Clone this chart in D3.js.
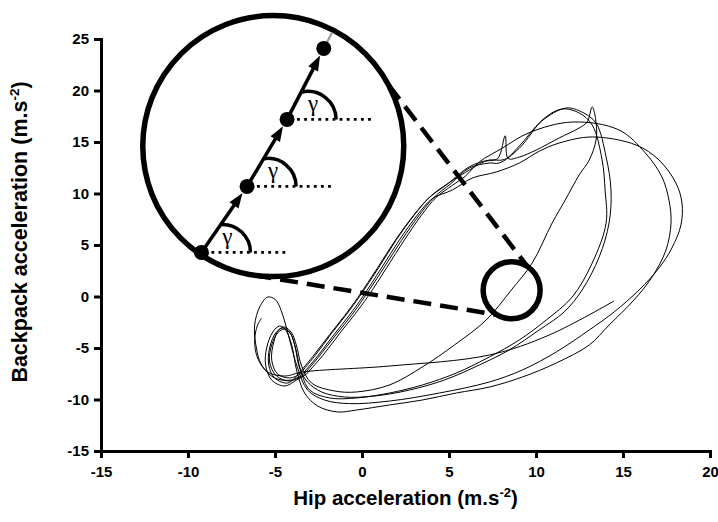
<!DOCTYPE html>
<html>
<head>
<meta charset="utf-8">
<script src="https://cdn.jsdelivr.net/npm/d3@7"></script>
<style>
  body { margin: 0; background: #fff; }
  svg { display: block; }
  .axis text { font-family: "Liberation Sans", Arial, sans-serif; font-weight: bold; font-size: 15px; fill: #000; }
  .title { font-family: "Liberation Sans", Arial, sans-serif; font-weight: bold; font-size: 20.5px; fill: #000; }
</style>
</head>
<body>
<svg id="chart" width="718" height="522"></svg>
<script>
// Axis ticks
const xTicks = [-15, -10, -5, 0, 5, 10, 15, 20];
const yTicks = [-15, -10, -5, 0, 5, 10, 15, 20, 25];

// Hip vs backpack acceleration, one array per stride cycle: [hip, backpack] in m.s-2
const cycle1 = [[-3.47,-7.62],[-2.55,-5.78],[-1.58,-3.64],[-0.72,-1.80],[0.03,-0.05],[1.12,2.77],[2.15,5.49],[3.18,7.91],[4.04,9.5],[5.19,10.34],[6.34,11.5],[7.72,12.09],[9.04,12.96],[10.18,14.1],[11.33,14.9],[13.23,15.49],[15.75,14.71],[17.07,13.25],[18.04,11.02],[18.39,9.08],[18.33,6.94],[17.81,4.71],[17.07,2.77],[15.92,0.63],[14.49,-1.5],[13.06,-3.25],[11.16,-5.39],[9.21,-7.14],[7.32,-8.3],[4.45,-9.37],[1.58,-10.15],[-0.72,-10.4],[-2.15,-10.05],[-3.13,-9.08],[-3.70,-6.94],[-4.16,-4.22],[-4.50,-2.09],[-4.96,-0.34],[-5.42,-0.05],[-5.88,-1.02],[-6.17,-2.77],[-6.10,-4.71],[-5.77,-6.65],[-5.02,-7.91],[-4.04,-8.11],[-3.47,-7.62]];
const cycle2 = [[-3.20,-7.55],[-2.25,-5.72],[-1.28,-3.58],[-0.42,-1.74],[0.34,0.0],[1.42,2.80],[2.44,5.5],[3.42,7.9],[4.25,9.6],[5.2,10.8],[5.95,11.7],[6.74,13.06],[8.06,14.4],[9.6,15.9],[12.08,16.94],[14.77,16.17],[16.3,13.9],[17.24,11.6],[17.64,9.37],[17.76,7.14],[17.47,4.51],[16.67,1.89],[15.63,-0.34],[14.20,-2.77],[13.06,-4.71],[11.16,-6.46],[9.21,-7.82],[7.32,-8.79],[5.42,-9.37],[3.47,-10.05],[1.58,-10.53],[-0.32,-11.02],[-1.41,-11.21],[-2.55,-10.63],[-3.30,-9.37],[-3.76,-7.14],[-4.04,-4.71],[-4.39,-3.25],[-4.73,-2.86],[-5.13,-3.45],[-5.48,-5.0],[-5.54,-6.65],[-5.19,-8.11],[-4.45,-8.69],[-3.76,-8.11],[-3.20,-7.55]];
const cycle3 = [[-3.75,-7.7],[-2.84,-5.85],[-1.86,-3.7],[-1.0,-1.86],[-0.24,-0.1],[0.86,2.7],[1.9,5.42],[2.95,7.85],[3.86,9.6],[4.9,10.9],[6.17,12.6],[7.32,13.25],[8.18,13.3],[9.04,14.6],[10.3,17.0],[11.73,18.3],[12.65,17.9],[13.45,16.84],[14.03,13.54],[14.31,10.34],[14.20,7.14],[13.63,3.83],[12.65,0.63],[11.62,-1.5],[10.18,-3.25],[8.46,-5.19],[6.74,-6.65],[4.73,-8.11],[2.73,-9.08],[0.72,-9.66],[-1.0,-9.76],[-2.32,-9.27],[-3.13,-8.3],[-3.59,-6.94],[-3.87,-4.71],[-4.16,-3.45],[-4.56,-3.06],[-4.96,-3.54],[-5.31,-5.0],[-5.36,-6.65],[-5.02,-7.91],[-4.27,-8.4],[-3.75,-7.7]];
const cycle4 = [[-3.38,-7.66],[-2.46,-5.8],[-1.47,-3.66],[-0.6,-1.82],[0.14,-0.06],[1.24,2.74],[2.27,5.45],[3.28,7.88],[4.12,9.6],[5.1,10.95],[6.17,12.48],[7.32,12.96],[7.89,12.96],[9.04,14.4],[10.47,17.3],[11.5,18.2],[12.48,17.82],[13.23,16.65],[13.8,13.25],[13.97,10.34],[14.03,7.14],[13.23,3.25],[12.08,-0.05],[10.59,-2.28],[9.04,-4.22],[7.32,-5.87],[5.42,-7.43],[3.47,-8.59],[1.58,-9.37],[-0.32,-9.85],[-1.86,-9.85],[-3.01,-9.08],[-3.53,-7.14],[-3.82,-5.0],[-4.1,-3.64],[-4.45,-3.16],[-4.85,-3.54],[-5.19,-4.71],[-5.31,-6.36],[-4.91,-7.72],[-4.16,-8.2],[-3.38,-7.66]];
const cycle5 = [[-3.6,-7.58],[-2.7,-5.74],[-1.76,-3.6],[-0.9,-1.76],[-0.14,0.0],[0.96,2.8],[1.98,5.52],[3.02,7.95],[3.92,9.7],[4.96,11.0],[6.17,12.28],[7.03,13.1],[7.8,13.4],[8.23,15.6],[8.4,13.4],[9.04,13.54],[10.01,14.22],[11.33,15.39],[12.48,16.36],[12.94,16.94],[13.23,18.4],[13.45,16.94],[13.45,15.19],[13.06,13.25],[12.48,11.8],[11.68,9.37],[10.93,7.14],[9.78,3.25],[8.58,0.63],[7.14,-2.28],[5.31,-4.71],[3.47,-6.84],[1.58,-8.59],[-0.32,-9.27],[-1.58,-9.17],[-2.9,-8.4],[-3.47,-6.75],[-3.76,-4.81],[-4.04,-3.54],[-4.45,-2.96],[-4.79,-3.25],[-5.07,-4.42],[-5.19,-6.17],[-4.85,-7.52],[-4.16,-7.91],[-3.6,-7.58]];
const cycle6 = [[-5.77,-2.09],[-6.0,-2.77],[-6.17,-4.22],[-6.0,-5.97],[-5.42,-7.33],[-4.45,-7.72],[-3.41,-7.33],[1.58,-6.75],[7.32,-5.68],[10.76,-3.74],[14.49,-0.43]];

const cycles = [cycle1, cycle2, cycle3, cycle4, cycle5, cycle6];

// Magnified region of the trace and where the magnifier sits (data units)
const focus = { hip: 8.6, backpack: 0.6 };
const lens = { hip: -5.1, backpack: 14.6 };

const svg = d3.select("#chart");

const x = d3.scaleLinear().domain([-15, 20]).range([101, 710]);
const y = d3.scaleLinear().domain([-15, 25]).range([451, 39]);

// ---- trace ----
const line = d3.line()
  .x(d => x(d[0]))
  .y(d => y(d[1]))
  .curve(d3.curveCatmullRom.alpha(0.5));

svg.append("g")
  .selectAll("path")
  .data(cycles)
  .join("path")
  .attr("d", line)
  .attr("fill", "none")
  .attr("stroke", "#000")
  .attr("stroke-width", 1);

// ---- axes ----
const fmt = d => String(d);
const gx = svg.append("g").attr("class", "axis")
  .attr("transform", `translate(0,${y(-15)})`)
  .call(d3.axisBottom(x).tickValues(xTicks).tickSize(7).tickSizeOuter(0).tickPadding(8).tickFormat(fmt));
const gy = svg.append("g").attr("class", "axis")
  .attr("transform", `translate(${x(-15)},0)`)
  .call(d3.axisLeft(y).tickValues(yTicks).tickSize(7).tickSizeOuter(0).tickPadding(5).tickFormat(fmt));
[gx, gy].forEach(g => {
  g.select(".domain").attr("stroke", "#000").attr("stroke-width", 3).attr("stroke-linecap", "square");
  g.selectAll(".tick line").attr("stroke", "#000").attr("stroke-width", 3);
});

// axis titles with superscript exponent
const xt = svg.append("text").attr("class", "title")
  .attr("x", (x(-15) + x(20)) / 2).attr("y", 505).attr("text-anchor", "middle");
xt.append("tspan").text("Hip acceleration (m.s");
xt.append("tspan").attr("dy", -8).attr("font-size", "13px").text("-2");
xt.append("tspan").attr("dy", 8).text(")");

const yt = svg.append("text").attr("class", "title")
  .attr("transform", `translate(27,232) rotate(-90)`)
  .attr("text-anchor", "middle")
  .style("font-size", "21.5px");
yt.append("tspan").text("Backpack acceleration (m.s");
yt.append("tspan").attr("dy", -8).attr("font-size", "13.5px").text("-2");
yt.append("tspan").attr("dy", 8).text(")");

// ---- magnifier ----
const big = { x: x(lens.hip), y: y(lens.backpack), r: 130.5 };
const small = { x: x(focus.hip), y: y(focus.backpack), r: 28.5 };
const onCircle = (c, deg) => [c.x + c.r * Math.cos(deg * Math.PI / 180), c.y + c.r * Math.sin(deg * Math.PI / 180)];

const connectors = [
  [onCircle(big, -28), onCircle(small, -56)],
  [onCircle(big, 98.7), onCircle(small, 121)]
];
svg.append("g").selectAll("line").data(connectors).join("line")
  .attr("x1", d => d[0][0]).attr("y1", d => d[0][1])
  .attr("x2", d => d[1][0]).attr("y2", d => d[1][1])
  .attr("stroke", "#000").attr("stroke-width", 4.5).attr("stroke-dasharray", "18 9");

svg.append("circle").attr("cx", small.x).attr("cy", small.y).attr("r", small.r)
  .attr("fill", "none").attr("stroke", "#000").attr("stroke-width", 5.5);

svg.append("circle").attr("cx", big.x).attr("cy", big.y).attr("r", big.r)
  .attr("fill", "#fff").attr("stroke", "#000").attr("stroke-width", 5.5);

// schematic of successive samples inside the lens (offsets from lens centre, px)
const steps = [[-71.8, 106.3], [-26.2, 40.3], [13.8, -26.7], [50.5, -97.7]]
  .map(([dx, dy]) => [big.x + dx, big.y + dy]);
const dotR = 7.5;
const inset = svg.append("g");

// grey continuation to the lens rim
{
  const p = steps[3], q = steps[2];
  const len = Math.hypot(p[0] - q[0], p[1] - q[1]);
  const u = [(p[0] - q[0]) / len, (p[1] - q[1]) / len];
  const d = [p[0] - big.x, p[1] - big.y];
  const du = d[0] * u[0] + d[1] * u[1];
  const rr = big.r - 2.5;
  const t = -du + Math.sqrt(du * du - (d[0] * d[0] + d[1] * d[1]) + rr * rr);
  inset.append("line").attr("x1", p[0]).attr("y1", p[1])
    .attr("x2", p[0] + u[0] * t).attr("y2", p[1] + u[1] * t)
    .attr("stroke", "#9a9a9a").attr("stroke-width", 2.2);
}

// arrows between samples, angle arcs, horizontal references and labels
const headLen = 15, headW = 11, arcOff = 21, arcR = 28;
for (let i = 0; i < steps.length - 1; i++) {
  const a = steps[i], b = steps[i + 1];
  const len = Math.hypot(b[0] - a[0], b[1] - a[1]);
  const u = [(b[0] - a[0]) / len, (b[1] - a[1]) / len];
  const n = [-u[1], u[0]];
  const tip = [b[0] - u[0] * (dotR + 0.5), b[1] - u[1] * (dotR + 0.5)];
  const base = [tip[0] - u[0] * headLen, tip[1] - u[1] * headLen];
  inset.append("line").attr("x1", a[0]).attr("y1", a[1])
    .attr("x2", base[0] + u[0] * 2).attr("y2", base[1] + u[1] * 2)
    .attr("stroke", "#000").attr("stroke-width", 3.5);
  inset.append("path")
    .attr("d", `M${tip[0]},${tip[1]}L${base[0] + n[0] * headW / 2},${base[1] + n[1] * headW / 2}L${base[0] - n[0] * headW / 2},${base[1] - n[1] * headW / 2}Z`)
    .attr("fill", "#000");

  // dotted horizontal reference
  inset.append("line").attr("x1", a[0] + 10).attr("y1", a[1]).attr("x2", a[0] + 86).attr("y2", a[1])
    .attr("stroke", "#000").attr("stroke-width", 2.8).attr("stroke-dasharray", "2.8 4.3");

  // angle arc from horizontal up to the arrow
  const c = [a[0] + arcOff, a[1]];
  const ux = u[0] * arcOff;
  const t = ux + Math.sqrt(ux * ux - arcOff * arcOff + arcR * arcR);
  const hit = [a[0] + u[0] * t, a[1] + u[1] * t];
  inset.append("path")
    .attr("d", `M${c[0] + arcR},${c[1]}A${arcR},${arcR} 0 0 0 ${hit[0]},${hit[1]}`)
    .attr("fill", "none").attr("stroke", "#000").attr("stroke-width", 3.5);

  inset.append("text").attr("x", a[0] + 26).attr("y", a[1] - 8)
    .attr("text-anchor", "middle")
    .style("font-family", "'Liberation Serif', 'DejaVu Serif', serif")
    .style("font-size", "23px")
    .text("γ");
}

inset.selectAll("circle").data(steps).join("circle")
  .attr("cx", d => d[0]).attr("cy", d => d[1]).attr("r", dotR).attr("fill", "#000");
</script>
</body>
</html>
